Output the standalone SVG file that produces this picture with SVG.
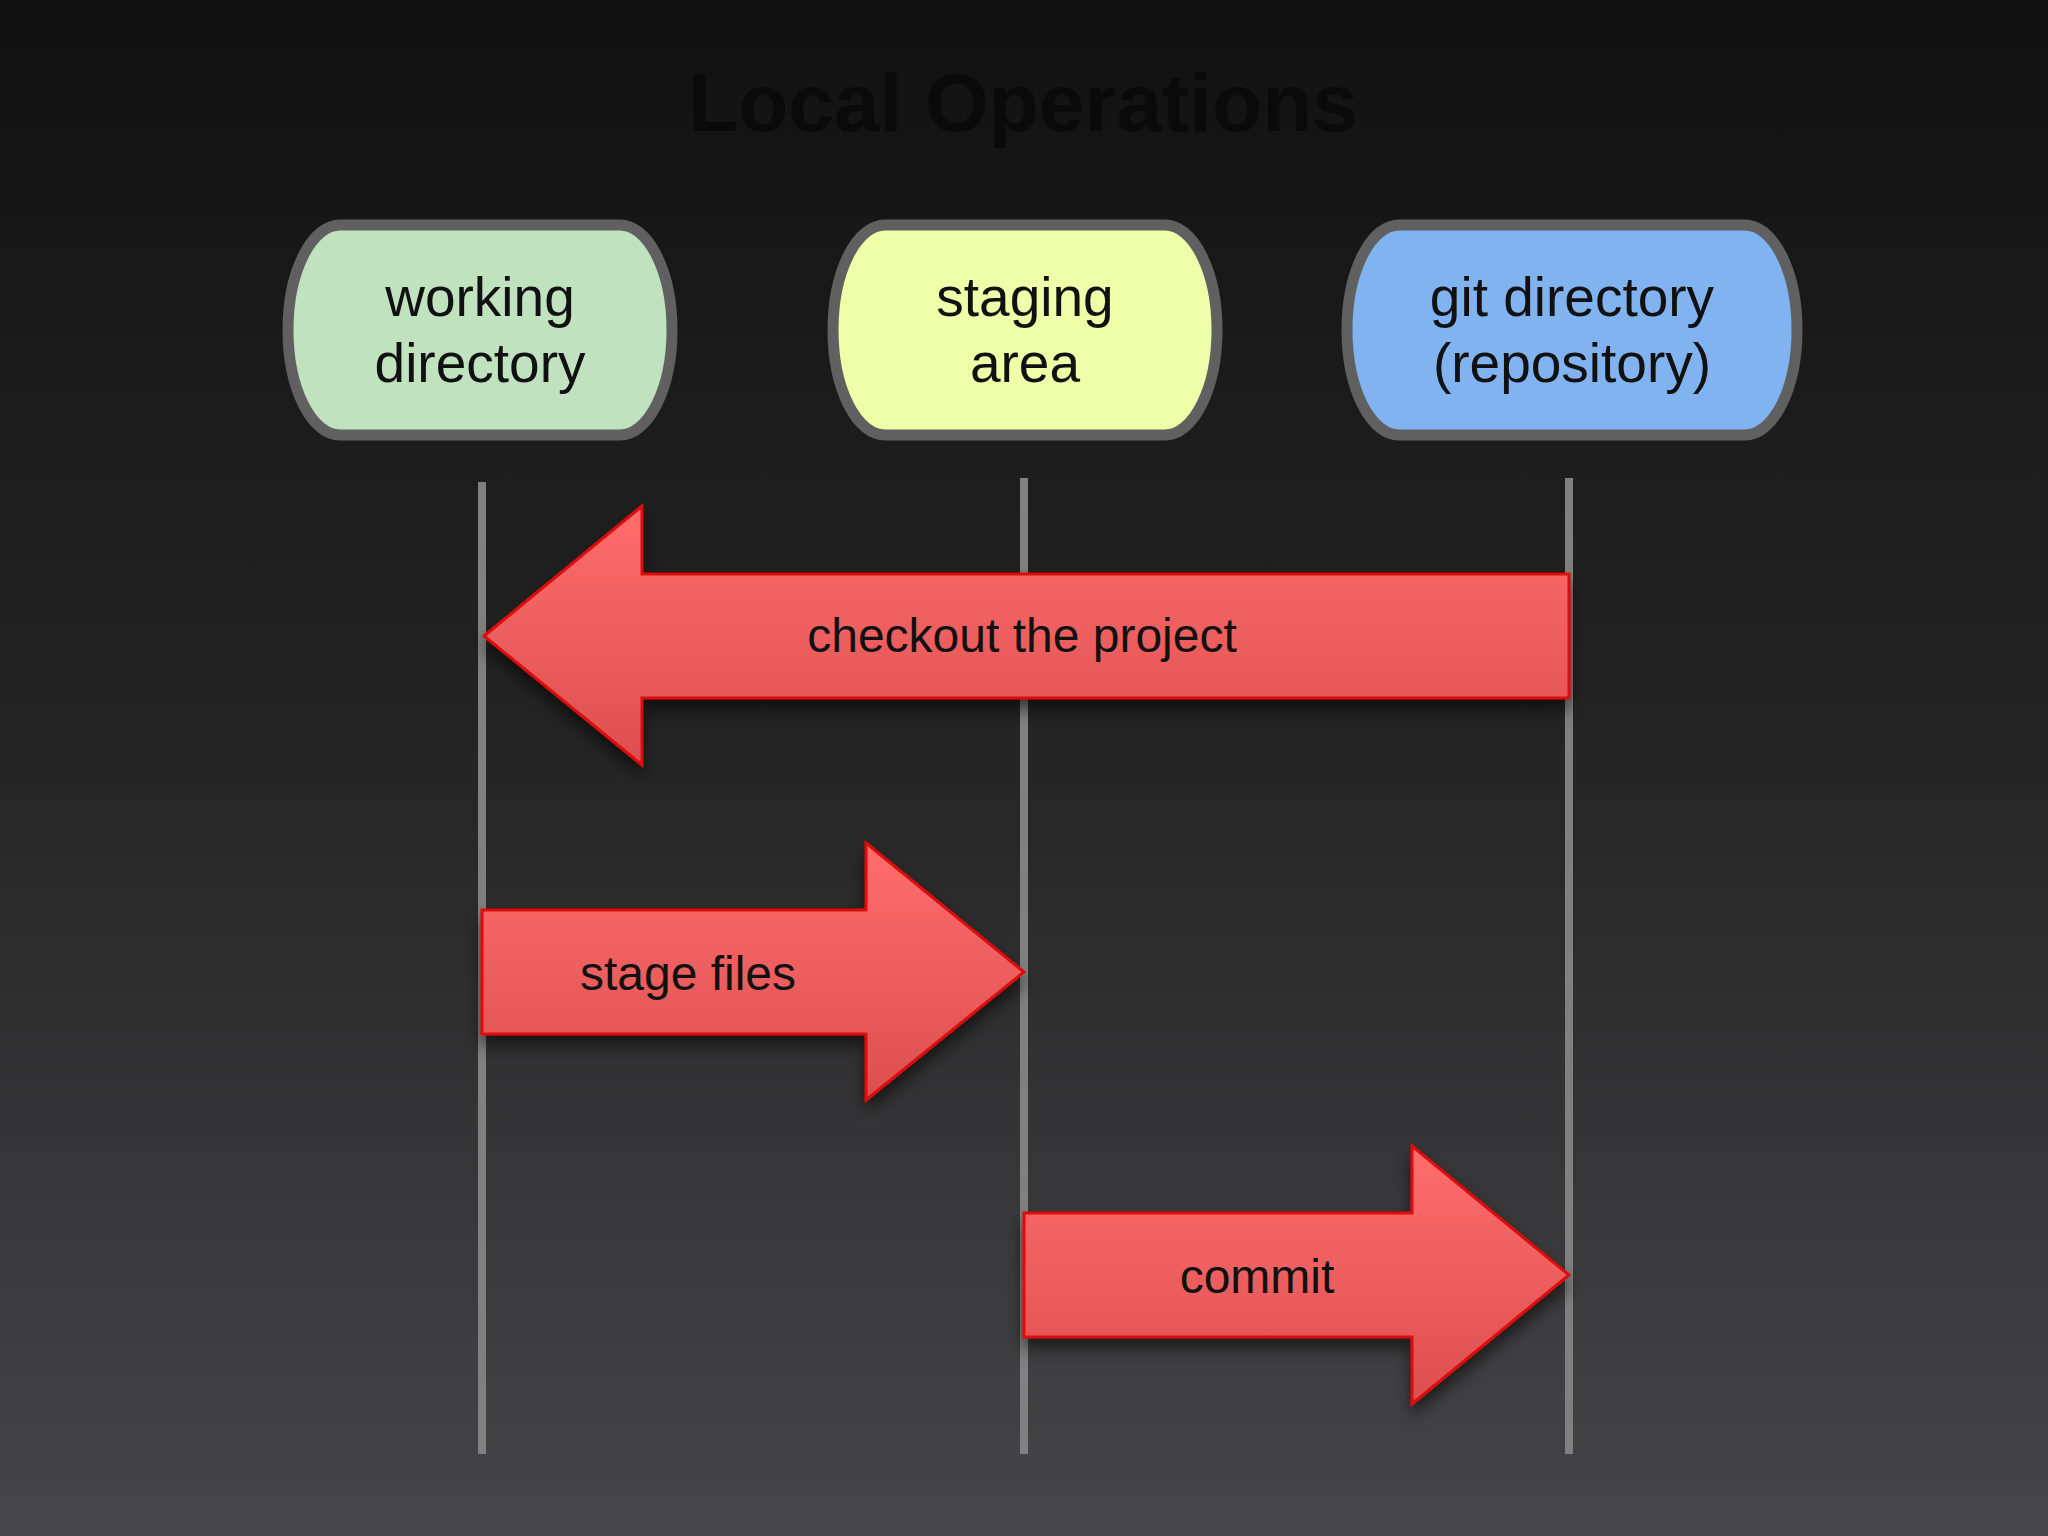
<svg xmlns="http://www.w3.org/2000/svg" width="2048" height="1536" viewBox="0 0 2048 1536">
  <defs>
    <linearGradient id="bg" x1="0" y1="0" x2="0" y2="1">
      <stop offset="0" stop-color="#111111"/>
      <stop offset="0.5" stop-color="#252526"/>
      <stop offset="1" stop-color="#464547"/>
    </linearGradient>
    <linearGradient id="arrowFill" x1="0" y1="0" x2="0" y2="1">
      <stop offset="0" stop-color="#ff6d6d"/>
      <stop offset="1" stop-color="#dc4f4f"/>
    </linearGradient>
    <filter id="shadow" x="-10%" y="-20%" width="120%" height="150%">
      <feDropShadow dx="0" dy="10" stdDeviation="8" flood-color="#000" flood-opacity="0.55"/>
    </filter>
    <style>
      .node { stroke: #606060; stroke-width: 11; }
      .ntext { font-family: "Liberation Sans", Arial, sans-serif; font-size: 55px; fill: #111; text-anchor: middle; }
      .lane { stroke: #808080; stroke-width: 8; }
      .arrow { fill: url(#arrowFill); stroke: #dd0a0a; stroke-width: 3; stroke-linejoin: miter; filter: url(#shadow); }
      .atext { font-family: "Liberation Sans", Arial, sans-serif; font-size: 48px; fill: #111; text-anchor: middle; }
    </style>
  </defs>
  <rect x="0" y="0" width="2048" height="1536" fill="url(#bg)"/>
  <text x="1023" y="131" font-family="'Liberation Sans', Arial, sans-serif" font-weight="bold" font-size="82" fill="#0a0a0a" text-anchor="middle">Local Operations</text>

  <g id="working-directory">
    <rect class="node" x="288" y="225" width="384" height="210" rx="52" ry="105" fill="#c1e2bf"/>
    <text class="ntext" x="480" y="316">working</text>
    <text class="ntext" x="480" y="382">directory</text>
  </g>
  <g id="staging-area">
    <rect class="node" x="833" y="225" width="384" height="210" rx="52" ry="105" fill="#effea8"/>
    <text class="ntext" x="1025" y="316">staging</text>
    <text class="ntext" x="1025" y="382">area</text>
  </g>
  <g id="git-directory">
    <rect class="node" x="1347" y="225" width="450" height="210" rx="52" ry="105" fill="#80b3ef"/>
    <text class="ntext" x="1572" y="316">git directory</text>
    <text class="ntext" x="1572" y="382">(repository)</text>
  </g>

  <g id="connectors">
    <line class="lane" x1="482" y1="482" x2="482" y2="1454"/>
    <line class="lane" x1="1024" y1="478" x2="1024" y2="1454"/>
    <line class="lane" x1="1569" y1="478" x2="1569" y2="1454"/>

    <g id="checkout">
      <polygon class="arrow" points="484,636 642,506 642,574 1569,574 1569,698 642,698 642,765"/>
      <text class="atext" x="1022" y="652">checkout the project</text>
    </g>
    <g id="stage-files">
      <polygon class="arrow" points="482,910 866,910 866,843 1024,972 866,1100 866,1034 482,1034"/>
      <text class="atext" x="688" y="990">stage files</text>
    </g>
    <g id="commit">
      <polygon class="arrow" points="1024,1213 1412,1213 1412,1146 1569,1275 1412,1404 1412,1337 1024,1337"/>
      <text class="atext" x="1257" y="1293">commit</text>
    </g>
  </g>
</svg>
